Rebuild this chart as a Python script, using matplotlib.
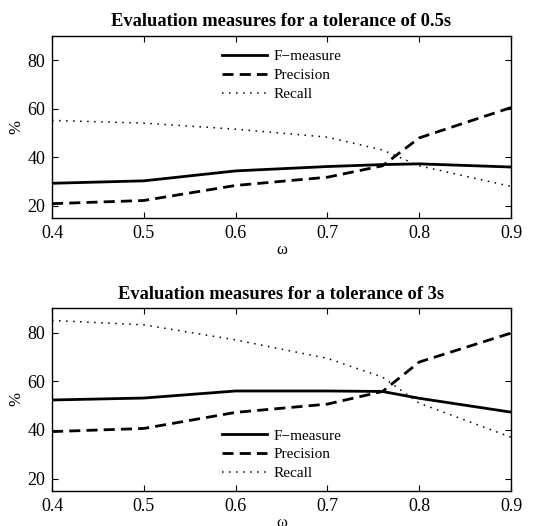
import matplotlib
matplotlib.use("Agg")
import matplotlib.pyplot as plt

omega = [0.4, 0.5, 0.6, 0.7, 0.76, 0.8, 0.9]

f_05 = [29.3, 30.3, 34.4, 36.2, 37.0, 37.3, 36.0]
p_05 = [20.9, 22.2, 28.4, 31.8, 36.5, 48.0, 60.5]
r_05 = [55.2, 54.1, 51.6, 48.3, 43.0, 36.5, 28.0]

f_3 = [52.3, 53.1, 56.0, 56.0, 55.8, 53.0, 47.3]
p_3 = [39.3, 40.6, 47.2, 50.6, 55.8, 67.9, 79.8]
r_3 = [85.0, 83.2, 77.0, 69.4, 61.7, 51.0, 37.0]

titles = ["Evaluation measures for a tolerance of 0.5s",
          "Evaluation measures for a tolerance of 3s"]
labels = ["F\u2212measure", "Precision", "Recall"]
xticks = [0.4, 0.5, 0.6, 0.7, 0.8, 0.9]
yticks = [20, 40, 60, 80]

plt.rcParams['font.family'] = ['Liberation Serif', 'DejaVu Serif']

fig = plt.figure(figsize=(5.43, 5.26), dpi=100)
ax1 = fig.add_axes([0.0958, 0.5856, 0.8453, 0.346])
ax2 = fig.add_axes([0.0958, 0.0671, 0.8453, 0.3468])

datasets = [(f_05, p_05, r_05), (f_3, p_3, r_3)]
locs = ['upper center', 'lower center']
pads = [0.5, 0.3]
for ax, (f, p, r), t, loc, bp in zip([ax1, ax2], datasets, titles, locs, pads):
    ax.plot(omega, f, color='black', lw=2.0, ls='-', label=labels[0])
    ax.plot(omega, p, color='black', lw=2.0, ls=(0, (4, 2.2)), label=labels[1])
    ax.plot(omega, r, color='black', lw=1.1, ls=(0, (1, 3.6)), label=labels[2])
    ax.set_xlim(0.4, 0.9)
    ax.set_ylim(15, 90)
    ax.set_xticks(xticks)
    ax.set_xticklabels([f"{v:.1f}" for v in xticks])
    ax.set_yticks(yticks)
    ax.tick_params(direction='in', top=True, right=True, labelsize=13, length=4, width=0.8, pad=5)
    for s in ax.spines.values():
        s.set_linewidth(1.0)
    ax.set_title(t, fontsize=13.3, fontweight='bold', pad=7)
    ax.set_xlabel("\u03c9", fontsize=12, labelpad=0)
    ax.set_ylabel("%", fontsize=12, labelpad=2)
    ax.legend(loc=loc, frameon=False, fontsize=11, handlelength=3.0,
              handletextpad=0.4, labelspacing=0.33, borderaxespad=bp)

fig.savefig("out.png", dpi=100)
